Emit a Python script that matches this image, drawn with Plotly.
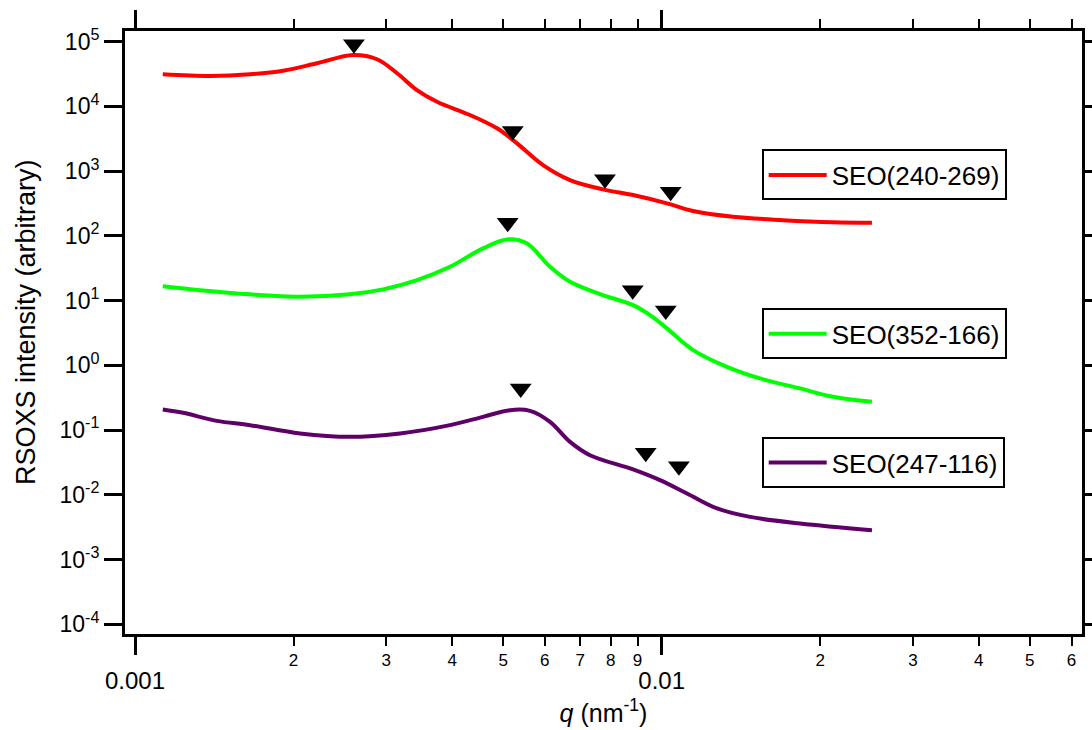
import plotly.graph_objects as go

# ---- data ----
q_red = [0.001129, 0.001388, 0.001653, 0.001910, 0.002216, 0.002594, 0.002881, 0.003145,
         0.003430, 0.003744, 0.004325, 0.004867, 0.005313, 0.005953, 0.006699, 0.007737,
         0.008822, 0.01023, 0.01147, 0.01366, 0.01700, 0.02115, 0.02507]
I_red = [31300, 29500, 31300, 35600, 46400, 62300, 53500, 32500,
         17900, 11800, 7360, 4590, 2690, 1242, 728, 523,
         427, 318, 242, 197, 175, 162, 159]

q_green = [0.001129, 0.001329, 0.001653, 0.002057, 0.002560, 0.002957, 0.003430, 0.003963,
           0.004578, 0.005115, 0.005543, 0.006137, 0.006699, 0.007636, 0.008822, 0.009501,
           0.01023, 0.01147, 0.01330, 0.01537, 0.01831, 0.02115, 0.02507]
I_green = [16.7, 14.5, 12.5, 11.5, 12.5, 14.9, 20.7, 33.3,
           64.1, 88.3, 76.6, 33.3, 19.5, 12.6, 8.51, 5.97,
           3.72, 1.72, 0.948, 0.627, 0.440, 0.326, 0.273]

q_purple = [0.001129, 0.001234, 0.001429, 0.001653, 0.002057, 0.002560, 0.003185, 0.003963,
            0.004578, 0.005152, 0.005623, 0.006137, 0.006699, 0.007309, 0.008822, 0.009926,
            0.01117, 0.01274, 0.01472, 0.01831, 0.02507]
I_purple = [0.208, 0.1845, 0.1387, 0.119, 0.0885, 0.0785, 0.0885, 0.119,
            0.160, 0.203, 0.198, 0.134, 0.0657, 0.0409, 0.0246, 0.0168,
            0.01047, 0.00614, 0.00455, 0.00360, 0.00284]

# peak markers (triangles above the curves)
peak_q = [0.002604, 0.005215, 0.007803, 0.01040,
          0.005100, 0.008810, 0.01018,
          0.005399, 0.009325, 0.01078]
peak_I = [91170, 4167, 747, 480,
          159, 14.4, 7.05,
          0.440, 0.0444, 0.0277]

names = ["SEO(240-269)", "SEO(352-166)", "SEO(247-116)"]
colors = ["#FF0000", "#00FF00", "#5E0068"]

x_major = [0.001, 0.01]
x_major_text = ["0.001", "0.01"]
x_minor = [0.002, 0.003, 0.004, 0.005, 0.006, 0.007, 0.008, 0.009,
           0.02, 0.03, 0.04, 0.05, 0.06]
x_minor_text = ["2", "3", "4", "5", "6", "7", "8", "9", "2", "3", "4", "5", "6"]

y_ticks = [1e-4, 1e-3, 1e-2, 1e-1, 1e0, 1e1, 1e2, 1e3, 1e4, 1e5]
y_tick_text = ["10<sup>-4</sup>", "10<sup>-3</sup>", "10<sup>-2</sup>", "10<sup>-1</sup>",
               "10<sup>0</sup>", "10<sup>1</sup>", "10<sup>2</sup>", "10<sup>3</sup>",
               "10<sup>4</sup>", "10<sup>5</sup>"]

y_title = "RSOXS intensity (arbitrary)"
x_title = "<i>q</i> (nm<sup>-1</sup>)"

x_range = [-3.019, -1.202]
y_range = [-4.151, 5.165]

FONT = "Liberation Sans, Arial, sans-serif"

fig = go.Figure()
series = [(q_red, I_red), (q_green, I_green), (q_purple, I_purple)]
legends = ["legend", "legend2", "legend3"]
for (qx, iy), nm, c, lg in zip(series, names, colors, legends):
    fig.add_trace(go.Scatter(x=qx, y=iy, mode="lines", name=nm,
                             line=dict(color=c, width=4, shape="spline", smoothing=1.0),
                             legend=lg))

fig.add_trace(go.Scatter(x=peak_q, y=peak_I, mode="markers", xaxis="x2",
                         marker=dict(symbol="triangle-down", size=19, color="black"),
                         showlegend=False))

leg_common = dict(xanchor="left", yanchor="top", bgcolor="white",
                  bordercolor="black", borderwidth=2,
                  font=dict(family=FONT, size=26, color="black"),
                  itemwidth=58)

fig.update_layout(
    width=1092, height=730,
    margin=dict(l=125, r=10, t=31, b=96),
    paper_bgcolor="white", plot_bgcolor="white",
    font=dict(family=FONT, color="black"),
    xaxis=dict(type="log", range=x_range, autorange=False, automargin=False,
               tickvals=x_major, ticktext=x_major_text,
               ticks="outside", ticklen=18, tickwidth=3, tickcolor="black",
               showline=True, linewidth=3, linecolor="black", mirror="allticks",
               showgrid=False, zeroline=False,
               tickfont=dict(size=24), ticklabelstandoff=5,
               title=dict(text=x_title, font=dict(size=25), standoff=12)),
    xaxis2=dict(type="log", range=x_range, autorange=False, automargin=False,
                overlaying="x", anchor="y", side="bottom",
                tickvals=x_minor, ticktext=x_minor_text,
                ticks="outside", ticklen=9, tickwidth=2, tickcolor="black",
                showline=True, linewidth=3, linecolor="black", mirror="ticks",
                showgrid=False, zeroline=False,
                tickfont=dict(size=17)),
    yaxis=dict(type="log", range=y_range, autorange=False, automargin=False,
               tickvals=y_ticks, ticktext=y_tick_text,
               ticks="outside", ticklen=18, tickwidth=3, tickcolor="black",
               showline=True, linewidth=3, linecolor="black", mirror="ticks",
               showgrid=False, zeroline=False,
               tickfont=dict(size=23)),
    legend=dict(x=0.6653, y=0.8035, **leg_common),
    legend2=dict(x=0.6653, y=0.5400, **leg_common),
    legend3=dict(x=0.6653, y=0.3265, **leg_common),
    annotations=[dict(text=y_title, textangle=-90, xref="paper", yref="paper",
                      x=-0.1034, y=0.5174, xanchor="center", yanchor="middle",
                      showarrow=False, font=dict(family=FONT, size=27, color="black"))],
)

fig.write_html("out.html")
